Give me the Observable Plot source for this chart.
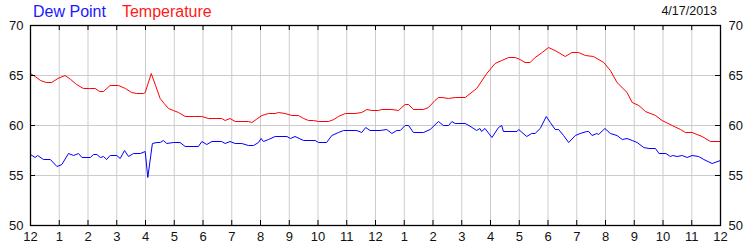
<!DOCTYPE html>
<html>
<head>
<meta charset="utf-8">
<script src="https://cdn.jsdelivr.net/npm/d3@7"></script>
<script src="https://cdn.jsdelivr.net/npm/@observablehq/plot@0.6"></script>
<style>
  html, body { margin: 0; padding: 0; background: #fff; }
  #wrap { position: relative; width: 750px; height: 250px; font-family: "Liberation Sans", Arial, sans-serif; }
  .ttl { position: absolute; white-space: nowrap; line-height: 1; }
</style>
</head>
<body>
<div id="wrap">
  <div class="ttl" style="left:33px; top:4px; font-size:16px;"><span style="color:#1a1aff">Dew Point</span><span style="color:#ff1a1a; margin-left:16px">Temperature</span></div>
  <div class="ttl" style="right:33px; top:5px; font-size:12.5px; color:#111">4/17/2013</div>
</div>
<script>
// Hours since midnight and values
const tempHours = [0.00,0.16,0.35,0.55,0.74,0.95,1.20,1.40,1.60,1.84,2.05,2.25,2.40,2.54,2.77,3.06,3.30,3.52,3.69,3.93,3.99,4.20,4.35,4.51,4.65,4.80,4.97,5.15,5.38,5.70,5.96,6.19,6.45,6.65,6.77,6.94,7.12,7.35,7.58,7.70,7.85,8.05,8.28,8.51,8.63,8.85,9.09,9.32,9.50,9.67,9.84,10.02,10.37,10.55,10.71,10.95,11.29,11.52,11.70,11.87,12.10,12.22,12.57,12.80,13.03,13.15,13.32,13.67,13.84,14.07,14.19,14.31,14.54,14.77,15.12,15.52,15.87,16.16,16.39,16.63,16.86,17.03,17.20,17.38,17.55,17.80,18.02,18.31,18.60,18.83,19.06,19.30,19.58,19.94,20.17,20.40,20.75,20.93,21.16,21.39,21.74,21.97,22.32,22.61,22.78,23.01,23.36,23.65,24.00];
const tempValues = [65.2,64.9,64.5,64.3,64.3,64.7,65.0,64.6,64.1,63.7,63.7,63.7,63.4,63.4,64.0,64.0,63.7,63.3,63.2,63.2,63.3,65.2,64.0,62.7,62.2,61.7,61.5,61.3,60.9,60.9,60.9,60.7,60.7,60.7,60.5,60.7,60.4,60.4,60.4,60.3,60.6,61.0,61.2,61.2,61.3,61.2,61.0,61.0,60.7,60.5,60.5,60.4,60.4,60.6,60.9,61.2,61.2,61.3,61.6,61.5,61.5,61.6,61.6,61.5,62.1,62.1,61.6,61.6,61.8,62.5,62.8,62.8,62.7,62.8,62.8,63.7,65.2,66.2,66.5,66.8,66.8,66.6,66.3,66.3,66.8,67.3,67.8,67.4,66.9,67.3,67.3,67.0,66.9,66.3,65.5,64.3,63.3,62.3,62.0,61.4,61.0,60.5,60.0,59.6,59.3,59.3,58.9,58.4,58.4];

const dewHours = [0.00,0.16,0.25,0.45,0.69,0.92,1.09,1.32,1.50,1.67,1.79,2.08,2.19,2.31,2.43,2.54,2.65,2.77,3.00,3.12,3.27,3.41,3.58,3.82,3.99,4.08,4.24,4.40,4.51,4.62,4.74,4.97,5.20,5.38,5.84,5.96,6.13,6.31,6.65,6.77,6.94,7.12,7.35,7.58,7.76,7.93,8.02,8.10,8.28,8.51,8.92,9.04,9.20,9.50,9.90,10.02,10.30,10.48,10.71,10.89,11.35,11.52,11.66,11.81,12.16,12.39,12.57,12.74,12.86,13.03,13.15,13.32,13.67,13.90,14.19,14.36,14.54,14.66,14.77,15.12,15.25,15.52,15.63,15.69,15.81,16.05,16.28,16.39,16.45,16.92,16.98,17.26,17.43,17.55,17.73,17.94,18.08,18.25,18.37,18.54,18.72,18.95,19.12,19.35,19.42,19.53,19.70,19.76,19.98,20.17,20.40,20.58,20.75,20.93,21.10,21.33,21.51,21.74,21.86,22.10,22.26,22.34,22.49,22.67,22.84,23.01,23.24,23.42,23.71,24.00];
const dewValues = [57.1,56.8,57.0,56.6,56.6,55.9,56.1,57.2,57.0,57.2,56.8,56.8,57.1,57.1,56.8,56.9,56.6,57.0,57.0,56.7,57.5,56.9,57.2,57.2,57.4,54.8,58.2,58.3,58.3,58.5,58.2,58.3,58.3,57.9,57.9,58.4,58.1,58.4,58.4,58.2,58.4,58.2,58.2,58.0,58.0,58.3,58.7,58.4,58.6,58.9,58.9,58.7,58.9,58.5,58.5,58.3,58.3,59.0,59.3,59.5,59.5,59.3,59.8,59.5,59.5,59.6,59.2,59.5,59.5,60.0,60.0,59.3,59.3,59.6,60.4,60.0,60.0,60.4,60.2,60.2,60.0,59.5,59.7,59.4,59.7,58.8,59.8,60.0,59.4,59.4,59.6,58.9,59.2,59.2,59.7,60.9,60.3,59.6,59.6,59.0,58.3,59.0,59.2,59.4,59.4,59.0,59.2,59.1,59.7,59.2,59.0,58.6,58.7,58.5,58.3,57.8,57.7,57.7,57.2,57.2,56.9,57.0,56.9,57.0,56.8,57.0,56.9,56.6,56.2,56.5];

const hourTicks = d3.range(0, 25);
const hourLabels = ["12","1","2","3","4","5","6","7","8","9","10","11","12","1","2","3","4","5","6","7","8","9","10","11","12"];
const innerHours = d3.range(1, 24);
const yTicks = [50, 55, 60, 65, 70];
const yInner = [55, 60, 65];

const temp = tempHours.map((h, i) => ({h, v: tempValues[i]}));
const dew = dewHours.map((h, i) => ({h, v: dewValues[i]}));

const chart = Plot.plot({
  width: 750,
  height: 250,
  marginLeft: 30,
  marginRight: 30,
  marginTop: 25,
  marginBottom: 25,
  style: {fontFamily: "'Liberation Sans', Arial, sans-serif", fontSize: "13px", color: "#111", background: "transparent"},
  x: {domain: [0, 24]},
  y: {domain: [50, 70]},
  marks: [
    Plot.gridX(innerHours, {stroke: "#cccccc", strokeOpacity: 1}),
    Plot.gridY(yInner, {stroke: "#cccccc", strokeOpacity: 1}),
    Plot.line(temp, {x: "h", y: "v", stroke: "#ff0000", strokeWidth: 1}),
    Plot.line(dew, {x: "h", y: "v", stroke: "#0000ff", strokeWidth: 1}),
    Plot.tickX(innerHours, {x: d => d, insetTop: 195, stroke: "#000"}),
    Plot.tickX(innerHours, {x: d => d, insetBottom: 195, stroke: "#000"}),
    Plot.tickY(yInner, {y: d => d, insetRight: 685, stroke: "#000"}),
    Plot.tickY(yInner, {y: d => d, insetLeft: 685, stroke: "#000"}),
    Plot.frame({stroke: "#000", strokeWidth: 1.3}),
    Plot.axisX(hourTicks, {anchor: "bottom", tickSize: 0, tickPadding: 6, label: null, tickFormat: d => hourLabels[d]}),
    Plot.axisY(yTicks, {anchor: "left", tickSize: 0, tickPadding: 7, label: null}),
    Plot.axisY(yTicks, {anchor: "right", tickSize: 0, tickPadding: 8, label: null})
  ]
});
chart.style.position = "absolute";
chart.style.left = "0px";
chart.style.top = "0px";
document.getElementById("wrap").prepend(chart);
</script>
</body>
</html>
